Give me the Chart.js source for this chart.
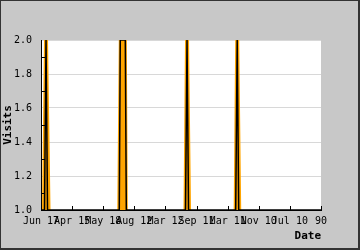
<!DOCTYPE html>
<html>
<head>
<meta charset="utf-8">
<script src="https://cdn.jsdelivr.net/npm/chart.js@4"></script>
<style>
  html, body { margin: 0; padding: 0; background: #c8c8c8; }
  #wrap { width: 360px; height: 250px; }
</style>
</head>
<body>
<div id="wrap"><canvas id="chart"></canvas></div>
<script>
// tick labels along the date axis
const dateLabels = ['Jun 17', 'Apr 15', 'May 18', 'Aug 12', 'Mar 12', 'Sep 11', 'Mar 11', 'Nov 10', 'Jul 10', '90'];

// black visit line (day index, visits)
const lineDays   = [0, 3.5, 5, 6.5, 78, 79, 84, 85, 144, 145.5, 147, 194, 195.5, 197, 279];
const lineVisits = [1, 1,   2, 1,   1,  2,  2,  1,  1,   2,     1,   1,   2,     1,   1];

// orange filled area under the spikes
const areaDays   = [0, 1, 3, 7, 9.5, 76, 77.5, 85.5, 86.5, 142, 143.5, 147.5, 149.5, 192, 193.5, 197.5, 199.5, 279];
const areaVisits = [1, 1, 2, 2, 1,   1,  2,    2,    1,    1,   2,     2,     1,     1,   2,     2,     1,     1];

const monoFont = 'DejaVu Sans Mono';

const frame = {
    id: 'frame',
    beforeDraw(chart) {
        const { ctx, chartArea: a } = chart;
        ctx.save();
        ctx.fillStyle = '#c8c8c8';
        ctx.fillRect(0, 0, chart.width, chart.height);
        ctx.fillStyle = '#ffffff';
        ctx.fillRect(a.left, a.top, a.right - a.left, a.bottom - a.top);
        ctx.restore();
    },
    afterDraw(chart) {
        const { ctx, chartArea: a, scales } = chart;
        ctx.save();
        ctx.strokeStyle = '#000';
        ctx.lineWidth = 1;
        ctx.beginPath();
        // inward ticks on the date axis
        const xs = scales.x;
        xs.ticks.forEach((t, i) => {
            const px = Math.round(xs.getPixelForTick(i)) + 0.5;
            ctx.moveTo(px, a.bottom);
            ctx.lineTo(px, a.bottom - 4);
        });
        // inward minor ticks on the visits axis
        const ys = scales.y;
        for (let i = 0; i < ys.ticks.length - 1; i++) {
            const mid = (ys.ticks[i].value + ys.ticks[i + 1].value) / 2;
            const py = Math.round(ys.getPixelForValue(mid)) + 0.5;
            ctx.moveTo(a.left, py);
            ctx.lineTo(a.left + 4, py);
        }
        ctx.stroke();
        // outer frame of the picture
        ctx.strokeStyle = '#333';
        ctx.lineWidth = 2;
        ctx.strokeRect(0, 0, chart.width - 1, chart.height - 1);
        ctx.restore();
    }
};

new Chart(document.getElementById('chart'), {
    type: 'line',
    data: {
        datasets: [
            {
                data: lineDays.map((d, i) => ({ x: d, y: lineVisits[i] })),
                borderColor: '#000000',
                borderWidth: 1.5,
                pointRadius: 0,
                tension: 0,
                fill: false
            },
            {
                data: areaDays.map((d, i) => ({ x: d, y: areaVisits[i] })),
                borderColor: 'rgba(0,0,0,0)',
                borderWidth: 0,
                backgroundColor: '#ffa500',
                pointRadius: 0,
                tension: 0,
                fill: 'start'
            }
        ]
    },
    options: {
        responsive: true,
        maintainAspectRatio: false,
        animation: false,
        layout: { padding: { top: 40, right: 39, left: 2, bottom: 4 } },
        plugins: {
            legend: { display: false },
            tooltip: { enabled: false }
        },
        scales: {
            x: {
                type: 'linear',
                min: 0,
                max: 279,
                grid: { display: false, drawTicks: false },
                border: { color: '#000', width: 1 },
                ticks: {
                    stepSize: 31,
                    autoSkip: false,
                    maxRotation: 0,
                    minRotation: 0,
                    padding: 5,
                    color: '#000',
                    font: { family: monoFont, size: 10 },
                    callback: (v, i) => dateLabels[i]
                },
                title: {
                    display: true,
                    text: 'Date',
                    align: 'end',
                    color: '#000',
                    font: { family: monoFont, size: 11, weight: 'bold' },
                    padding: { top: 0, bottom: 3 }
                },
                afterFit(scale) { scale.height = 36; }
            },
            y: {
                min: 1,
                max: 2,
                grid: { color: '#d8d8d8', drawTicks: false },
                border: { color: '#000', width: 1 },
                ticks: {
                    stepSize: 0.2,
                    padding: 9,
                    color: '#000',
                    font: { family: monoFont, size: 10 },
                    callback: v => v.toFixed(1)
                },
                title: {
                    display: true,
                    text: 'Visits',
                    color: '#000',
                    font: { family: monoFont, size: 11, weight: 'bold' },
                    padding: { top: 0, bottom: 0 }
                },
                afterFit(scale) { scale.width = 39; }
            }
        }
    },
    plugins: [frame]
});
</script>
</body>
</html>
